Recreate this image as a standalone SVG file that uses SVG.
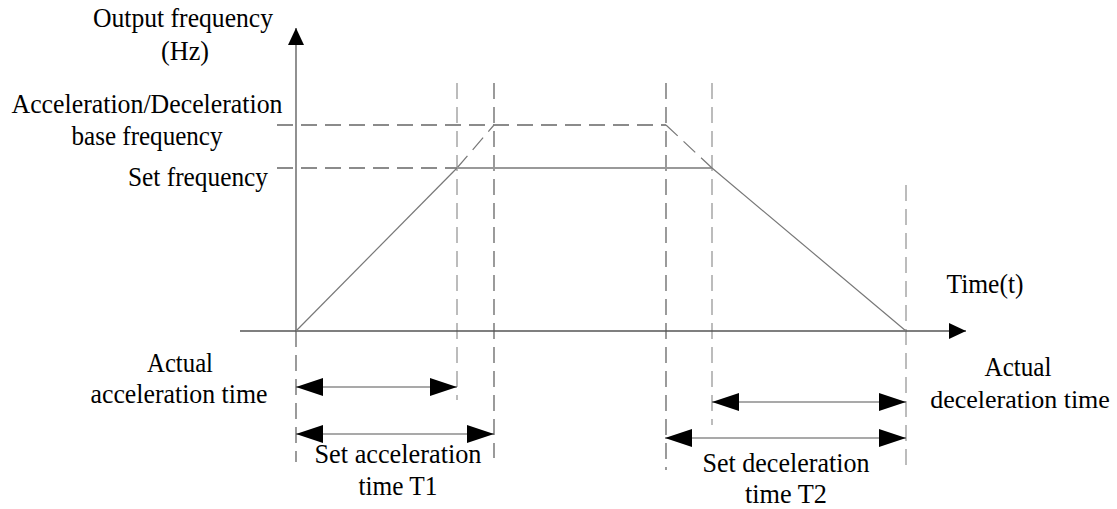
<svg xmlns="http://www.w3.org/2000/svg" width="1117" height="509" viewBox="0 0 1117 509">
<style>
text{font-family:"Liberation Serif","Times New Roman",serif;font-size:28px;fill:#000;text-anchor:middle}
.axis{stroke:#555;stroke-width:1.3;fill:none}
.dash{stroke:#666;stroke-width:1.3;stroke-dasharray:16 8;fill:none}
.dashl{stroke:#999;stroke-width:1.3;stroke-dasharray:16 8;fill:none}
.solid{stroke:#777;stroke-width:1.2;fill:none}
.sf{stroke:#999;stroke-width:2;fill:none}
.dim{stroke:#555;stroke-width:1.2;fill:none;marker-start:url(#ahs);marker-end:url(#ahe)}
</style>
<defs>
<marker id="ahe" markerUnits="userSpaceOnUse" markerWidth="28" markerHeight="20" refX="27" refY="9" orient="auto"><path d="M0,0 L27,9 L0,18 Z" fill="#000"/></marker>
<marker id="ahs" markerUnits="userSpaceOnUse" markerWidth="28" markerHeight="20" refX="0" refY="9" orient="auto"><path d="M27,0 L0,9 L27,18 Z" fill="#000"/></marker>
<marker id="axe" markerUnits="userSpaceOnUse" markerWidth="18" markerHeight="18" refX="17" refY="8" orient="auto"><path d="M0,0 L17,8 L0,16 Z" fill="#000"/></marker>
</defs>
<g id="guides">
<path class="dash" d="M277,125 H666"/>
<path class="dash" d="M277,168 H457"/>
<path class="dashl" d="M457,83 V400"/>
<path class="dash" d="M494,83 V458"/>
<path class="dash" d="M666,83 V470"/>
<path class="dashl" d="M712,83 V425"/>
<path class="dashl" d="M906,185 V470"/>
<path class="dash" d="M296,331 V462"/>
</g>
<g id="axes">
<path class="axis" d="M296,331 V28" marker-end="url(#axe)"/>
<path class="axis" d="M240,331 H966" marker-end="url(#axe)"/>
</g>
<g id="curve">
<path class="solid" d="M296,331 L457,168"/>
<path class="solid" d="M457,168 L494,125" stroke-dasharray="16 8"/>
<path class="sf" d="M457,168 H712"/>
<path class="solid" d="M666,125 L712,168" stroke-dasharray="16 8"/>
<path class="solid" d="M712,168 L906,331"/>
</g>
<g id="connectors">
<path class="dim" d="M296,387 H457"/>
<path class="dim" d="M296,434 H494"/>
<path class="dim" d="M712,402 H906"/>
<path class="dim" d="M665,438 H906"/>
</g>
<g id="labels">
<text x="183" y="27" textLength="180" lengthAdjust="spacingAndGlyphs">Output frequency</text>
<text x="185" y="60" textLength="48" lengthAdjust="spacingAndGlyphs">(Hz)</text>
<text x="147" y="113" textLength="271" lengthAdjust="spacingAndGlyphs">Acceleration/Deceleration</text>
<text x="147" y="145" textLength="151" lengthAdjust="spacingAndGlyphs">base frequency</text>
<text x="198" y="186" textLength="140" lengthAdjust="spacingAndGlyphs">Set frequency</text>
<text x="985" y="293" textLength="77" lengthAdjust="spacingAndGlyphs">Time(t)</text>
<text x="180" y="372" textLength="66" lengthAdjust="spacingAndGlyphs">Actual</text>
<text x="179" y="403" textLength="177" lengthAdjust="spacingAndGlyphs">acceleration time</text>
<text x="1018" y="376" textLength="67" lengthAdjust="spacingAndGlyphs">Actual</text>
<text x="1020" y="408" style="font-size:26px">deceleration time</text>
<text x="398" y="463" textLength="167" lengthAdjust="spacingAndGlyphs">Set acceleration</text>
<text x="398" y="495" textLength="79" lengthAdjust="spacingAndGlyphs">time T1</text>
<text x="786" y="472" textLength="167" lengthAdjust="spacingAndGlyphs">Set deceleration</text>
<text x="786" y="503" textLength="82" lengthAdjust="spacingAndGlyphs">time T2</text>
</g>
</svg>
